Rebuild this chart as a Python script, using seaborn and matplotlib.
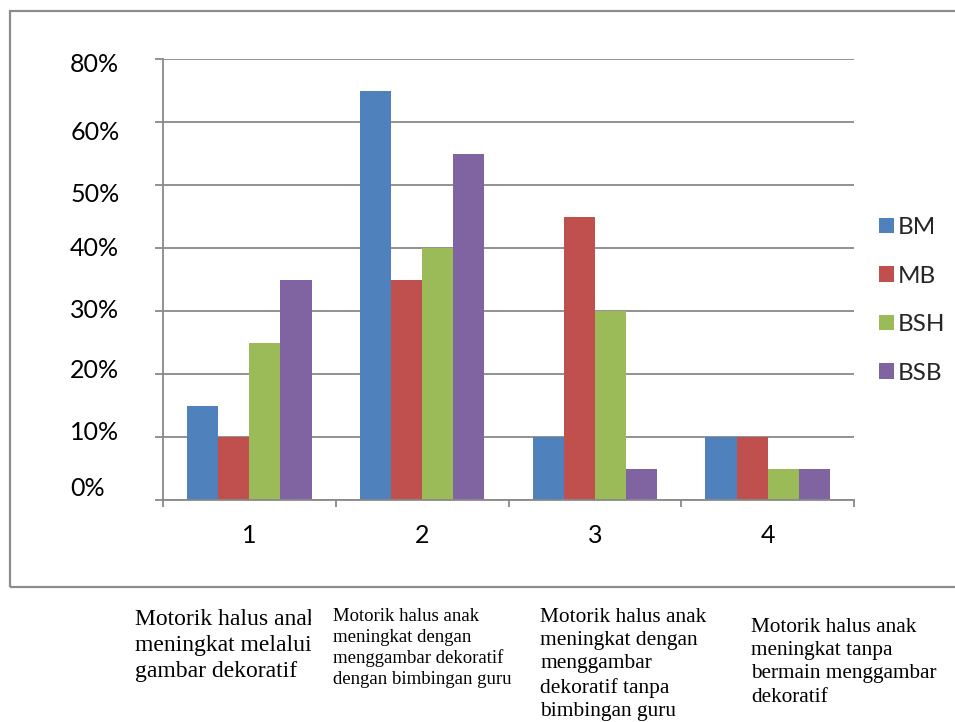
import matplotlib
matplotlib.use("Agg")
import matplotlib.pyplot as plt
from matplotlib.patches import Rectangle
from matplotlib.transforms import Bbox, TransformedBbox, ScaledTranslation
import pandas as pd
import seaborn as sns

# data (percent)
groups = ["1", "2", "3", "4"]
series = ["BM", "MB", "BSH", "BSB"]
bm = [15, 65, 10, 10]
mb = [10, 35, 45, 10]
bsh = [25, 40, 30, 5]
bsb = [35, 55, 5, 5]
ytick_values = [0, 10, 20, 30, 40, 50, 60, 70]
ytick_labels = ["0%", "10%", "20%", "30%", "40%", "50%", "60%", "80%"]
notes = [
    "Motorik halus anak\nmeningkat melalui\ngambar dekoratif",
    "Motorik halus anak\nmeningkat dengan\nmenggambar dekoratif\ndengan bimbingan guru",
    "Motorik halus anak\nmeningkat dengan\nmenggambar\ndekoratif tanpa\nbimbingan guru",
    "Motorik halus anak\nmeningkat tanpa\nbermain menggambar\ndekoratif",
]
colors = ["#4F81BD", "#C0504D", "#9BBB59", "#8064A2"]

df = pd.DataFrame({
    "group": groups * len(series),
    "series": [s for s in series for _ in groups],
    "value": bm + mb + bsh + bsb,
})

sns.set_theme(style="white")
plt.rcParams["font.family"] = ["Lato", "DejaVu Sans"]

W, H = 955, 722
grid_col = "#898989"

fig = plt.figure(figsize=(W / 100, H / 100), dpi=100)
ax = fig.add_axes([163 / W, 222 / H, 691 / W, 441 / H])

# outer chart frame
fig.patches.append(Rectangle((10 / W, (H - 587) / H), 1.0, 576 / H,
                             transform=fig.transFigure, fill=False,
                             edgecolor="#8c8c8c", lw=1.6))

sns.barplot(data=df, x="group", y="value", hue="series", palette=colors,
            width=0.72, saturation=1, linewidth=0, ax=ax)

ax.set_xlim(-0.5, 3.5)
ax.set_ylim(0, 70)
ax.set_yticks(ytick_values, ytick_labels)
ax.yaxis.grid(True, color=grid_col, lw=1.3)
ax.set_axisbelow(True)
ax.set_xlabel("")
ax.set_ylabel("")

for side in ["top", "right"]:
    ax.spines[side].set_visible(False)
for side in ["left", "bottom"]:
    ax.spines[side].set_color(grid_col)
    ax.spines[side].set_linewidth(1.3)

ax.tick_params(axis="y", left=True, length=5.8, width=1.3, color=grid_col,
               pad=61, labelsize=18, labelcolor="black")
# the original labels sit slightly off their gridlines (pixels, + is down)
label_nudge = [-14, -7, -6, -3, -1, 8, 8, 4]
for lab, dy in zip(ax.get_yticklabels(), label_nudge):
    lab.set_ha("left")
    lab.set_transform(lab.get_transform() +
                      ScaledTranslation(0, -dy / 100, fig.dpi_scale_trans))

ax.set_xticks([-0.5, 0.5, 1.5, 2.5, 3.5], minor=True)
ax.tick_params(axis="x", which="minor", bottom=True, length=5, width=1.3,
               color=grid_col)
ax.tick_params(axis="x", which="major", length=0, pad=17, labelsize=18,
               labelcolor="black")

handles, labels = ax.get_legend_handles_labels()
ax.legend(handles, labels, loc="center left", bbox_to_anchor=(879 / W, 0.584),
          bbox_transform=fig.transFigure, frameon=False, fontsize=17.5,
          borderpad=0, borderaxespad=0, handlelength=0.62, handleheight=0.62,
          handletextpad=0.15, labelspacing=1.13)

# descriptive notes under the chart frame
note_x = [135, 333, 540, 751]
note_y = [609, 608, 608, 618]
note_size = [17, 13.5, 15.4, 15.3]
note_spacing = [1.32, 1.27, 1.30, 1.30]
for i, txt in enumerate(notes):
    t = fig.text(note_x[i] / W, (H - note_y[i]) / H, txt, ha="left", va="top",
                 fontsize=note_size[i], linespacing=note_spacing[i],
                 family=["Liberation Serif", "DejaVu Serif"], color="black")
    if i == 0:
        t.set_clip_box(TransformedBbox(Bbox([[0, 0], [311 / W, 1]]),
                                       fig.transFigure))
        t.set_clip_on(True)

fig.savefig("out.png", dpi=100)
